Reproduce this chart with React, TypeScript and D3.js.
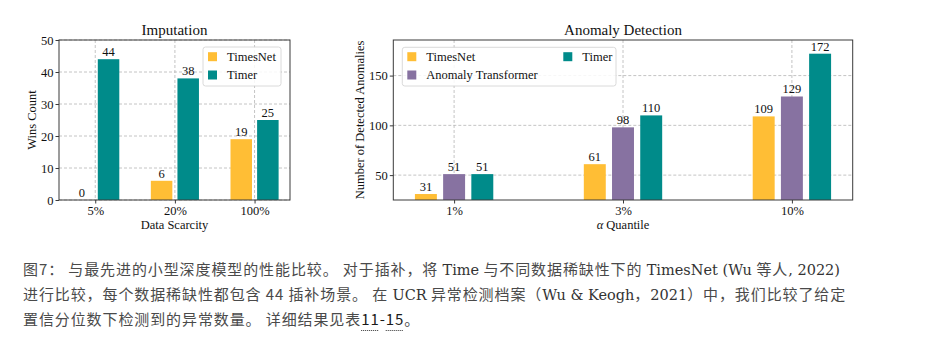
import React, { useEffect, useRef } from "react";
import * as d3 from "d3";

// Imputation panel
const impCategories = ["5%", "20%", "100%"];
const impTimesNet = [0, 6, 19];
const impTimer = [44, 38, 25];
const impYTicks = [0, 10, 20, 30, 40, 50];

// Anomaly detection panel
const adCategories = ["1%", "3%", "10%"];
const adTimesNet = [31, 61, 109];
const adAnomalyTransformer = [51, 98, 129];
const adTimer = [51, 110, 172];
const adYTicks = [50, 100, 150];

const YELLOW = "#FFBE35";
const TEAL = "#008B8A";
const PURPLE = "#8772A1";
const SERIF = "'Liberation Serif', 'Times New Roman', serif";
const CJK = "'Noto Sans CJK SC', 'Noto Sans', sans-serif";
const LATIN_SERIF = "'DejaVu Serif', serif";

type Series = { name: string; values: number[]; color: string; offset: number };

function drawPanel(svg: any, o: any) {
  const x = d3.scaleLinear().domain(o.xDomain).range([o.left, o.right]);
  const y = d3.scaleLinear().domain(o.yDomain).range([o.bottom, o.top]);
  const g = svg.append("g").style("font-family", SERIF);

  // grid
  g.selectAll("line.vgrid")
    .data(o.categories)
    .join("line")
    .attr("x1", (_: any, i: number) => x(i))
    .attr("x2", (_: any, i: number) => x(i))
    .attr("y1", o.top)
    .attr("y2", o.bottom)
    .attr("stroke", "#b5b5b5")
    .attr("stroke-width", 0.8)
    .attr("stroke-dasharray", "3,2");
  g.selectAll("line.hgrid")
    .data(o.yTicks)
    .join("line")
    .attr("x1", o.left)
    .attr("x2", o.right)
    .attr("y1", (d: number) => y(d))
    .attr("y2", (d: number) => y(d))
    .attr("stroke", "#b5b5b5")
    .attr("stroke-width", 0.8)
    .attr("stroke-dasharray", "3,2");

  // bars + value labels
  o.series.forEach((s: Series) => {
    s.values.forEach((v, i) => {
      const cx = x(i + s.offset);
      const w = x(o.barWidth) - x(0);
      const top = y(v);
      if (v > o.yDomain[0]) {
        g.append("rect")
          .attr("x", cx - w / 2)
          .attr("y", top)
          .attr("width", w)
          .attr("height", o.bottom - top)
          .attr("fill", s.color);
      }
      g.append("text")
        .attr("x", cx)
        .attr("y", Math.min(top, o.bottom) - 3)
        .attr("text-anchor", "middle")
        .style("font-size", "12.5px")
        .attr("fill", "#111")
        .text(v);
    });
  });

  // frame
  g.append("rect")
    .attr("x", o.left)
    .attr("y", o.top)
    .attr("width", o.right - o.left)
    .attr("height", o.bottom - o.top)
    .attr("fill", "none")
    .attr("stroke", "#3a3a3a")
    .attr("stroke-width", 1);

  // y ticks
  const yAxis = g.append("g").attr("transform", `translate(${o.left},0)`);
  yAxis
    .call(d3.axisLeft(y).tickValues(o.yTicks).tickSize(3.5).tickPadding(2))
    .call((a: any) => a.select(".domain").remove())
    .call((a: any) => a.selectAll("line").attr("stroke", "#3a3a3a"))
    .call((a: any) =>
      a.selectAll("text").style("font-size", "12.5px").style("font-family", SERIF).attr("fill", "#111")
    );

  // x ticks
  const xAxis = g.append("g").attr("transform", `translate(0,${o.bottom})`);
  xAxis
    .call(
      d3
        .axisBottom(x)
        .tickValues(o.categories.map((_: string, i: number) => i))
        .tickFormat((_: any, i: number) => o.categories[i])
        .tickSize(3.5)
        .tickPadding(2.5)
    )
    .call((a: any) => a.select(".domain").remove())
    .call((a: any) => a.selectAll("line").attr("stroke", "#3a3a3a"))
    .call((a: any) =>
      a.selectAll("text").style("font-size", "12.5px").style("font-family", SERIF).attr("fill", "#111")
    );

  // title
  g.append("text")
    .attr("x", (o.left + o.right) / 2)
    .attr("y", o.top - 5)
    .attr("text-anchor", "middle")
    .style("font-size", "15px")
    .attr("fill", "#111")
    .text(o.title);

  // x label
  const xl = g
    .append("text")
    .attr("x", (o.left + o.right) / 2)
    .attr("y", o.bottom + 28.5)
    .attr("text-anchor", "middle")
    .style("font-size", "12.5px")
    .attr("fill", "#111");
  if (o.xLabelItalic) {
    xl.append("tspan").style("font-style", "italic").text(o.xLabelItalic);
    xl.append("tspan").text(o.xLabel);
  } else {
    xl.text(o.xLabel);
  }

  // y label
  g.append("text")
    .attr("transform", `translate(${o.yLabelX},${(o.top + o.bottom) / 2}) rotate(-90)`)
    .attr("text-anchor", "middle")
    .style("font-size", "12.5px")
    .attr("fill", "#111")
    .text(o.yLabel);

  // legend
  const lg = g.append("g");
  lg.append("rect")
    .attr("x", o.legend.x)
    .attr("y", o.legend.y)
    .attr("width", o.legend.w)
    .attr("height", o.legend.h)
    .attr("rx", 2.5)
    .attr("fill", "white")
    .attr("fill-opacity", 0.85)
    .attr("stroke", "#d0d0d0")
    .attr("stroke-width", 0.8);
  o.legend.items.forEach((it: any) => {
    lg.append("rect")
      .attr("x", it.x)
      .attr("y", it.y - 4.5)
      .attr("width", 9)
      .attr("height", 9)
      .attr("fill", it.color);
    lg.append("text")
      .attr("x", it.x + 19)
      .attr("y", it.y + 4.3)
      .style("font-size", "12.5px")
      .attr("fill", "#111")
      .text(it.name);
  });
}

export default function App() {
  const ref = useRef<SVGSVGElement>(null);

  useEffect(() => {
    const svg = d3.select(ref.current);
    svg.selectAll("*").remove();
    svg.append("rect").attr("width", 928).attr("height", 358).attr("fill", "white");

    drawPanel(svg, {
      left: 59,
      right: 290,
      top: 40,
      bottom: 200,
      xDomain: [-0.455, 2.445],
      yDomain: [0, 50],
      yTicks: impYTicks,
      categories: impCategories,
      barWidth: 0.27,
      series: [
        { name: "TimesNet", values: impTimesNet, color: YELLOW, offset: -0.167 },
        { name: "Timer", values: impTimer, color: TEAL, offset: 0.167 },
      ],
      title: "Imputation",
      xLabel: "Data Scarcity",
      yLabel: "Wins Count",
      yLabelX: 36,
      legend: {
        x: 203,
        y: 47,
        w: 78,
        h: 39,
        items: [
          { name: "TimesNet", color: YELLOW, x: 208, y: 56.7 },
          { name: "Timer", color: TEAL, x: 208, y: 75 },
        ],
      },
    });

    drawPanel(svg, {
      left: 393.3,
      right: 852.7,
      top: 40,
      bottom: 200,
      xDomain: [-0.36, 2.36],
      yDomain: [25, 172 * 1.08],
      yTicks: adYTicks,
      categories: adCategories,
      barWidth: 0.13,
      series: [
        { name: "TimesNet", values: adTimesNet, color: YELLOW, offset: -0.167 },
        { name: "Anomaly Transformer", values: adAnomalyTransformer, color: PURPLE, offset: 0 },
        { name: "Timer", values: adTimer, color: TEAL, offset: 0.167 },
      ],
      title: "Anomaly Detection",
      xLabelItalic: "α",
      xLabel: " Quantile",
      yLabel: "Number of Detected Anomalies",
      yLabelX: 364,
      legend: {
        x: 402.3,
        y: 47.3,
        w: 213.7,
        h: 38.7,
        items: [
          { name: "TimesNet", color: YELLOW, x: 407.3, y: 56.7 },
          { name: "Anomaly Transformer", color: PURPLE, x: 407.3, y: 75 },
          { name: "Timer", color: TEAL, x: 563.3, y: 56.7 },
        ],
      },
    });

    // caption
    const lines: [string, string][][] = [
      [
        ["c", "图7： 与最先进的小型深度模型的性能比较。 对于插补，将 "],
        ["s", "Time"],
        ["c", " 与不同数据稀缺性下的 "],
        ["s", "TimesNet (Wu "],
        ["c", "等人"],
        ["s", ", 2022)"],
      ],
      [
        ["c", "进行比较，每个数据稀缺性都包含 44 插补场景。 在 "],
        ["s", "UCR"],
        ["c", " 异常检测档案（"],
        ["s", "Wu & Keogh"],
        ["c", "，"],
        ["s", "2021"],
        ["c", "）中，我们比较了给定"],
      ],
      [
        ["c", "置信分位数下检测到的异常数量。 详细结果见表"],
        ["r", "11"],
        ["d", "-"],
        ["r", "15"],
        ["c", "。"],
      ],
    ];
    const cap = svg.append("g");
    lines.forEach((segs, li) => {
      const t = cap
        .append("text")
        .attr("x", 23)
        .attr("y", 274.5 + li * 25.3)
        .style("white-space", "pre")
        .style("font-size", "15px")
        .style("letter-spacing", "0.9px")
        .style("font-family", CJK)
        .attr("fill", "#4a4a4a");
      segs.forEach(([k, s]) => {
        const sp = t.append("tspan").text(s);
        if (k === "s")
          sp.style("font-family", LATIN_SERIF)
            .style("font-size", "14.5px")
            .style("letter-spacing", "0px")
            .attr("fill", "#333");
        if (k === "r" || k === "d") sp.attr("fill", "#1a1a1a").attr("class", k === "r" ? "ref" : null);
      });
    });
    cap.selectAll("tspan.ref").each(function () {
      const b = (this as SVGTSpanElement).getBBox();
      cap
        .append("line")
        .attr("x1", b.x)
        .attr("x2", b.x + b.width - 1)
        .attr("y1", 330.5)
        .attr("y2", 330.5)
        .attr("stroke", "#333")
        .attr("stroke-width", 1)
        .attr("stroke-dasharray", "1,1");
    });
  }, []);

  return (
    <svg
      ref={ref}
      width={928}
      height={358}
      style={{ position: "absolute", left: 0, top: 0 }}
    />
  );
}
